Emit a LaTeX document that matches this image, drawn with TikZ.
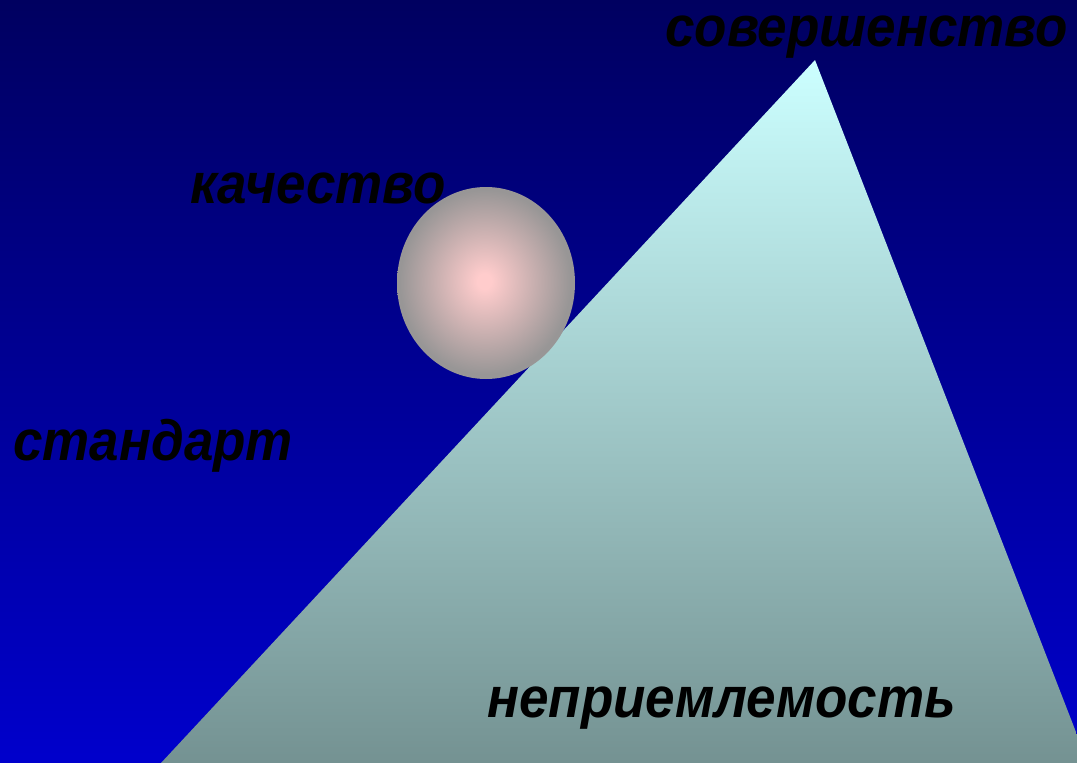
\documentclass[tikz,border=0pt]{standalone}
\usepackage{fontspec}
\setmainfont{Liberation Sans}
\newfontfamily\wordfont{Liberation Sans}[FakeStretch=0.93]

\definecolor{skytop}{RGB}{0,0,96}
\definecolor{skybot}{RGB}{0,0,204}
\definecolor{peaktop}{RGB}{204,255,255}
\definecolor{peakbot}{RGB}{116,146,146}
\definecolor{ballin}{RGB}{255,204,204}
\definecolor{ballout}{RGB}{152,150,150}
\pgfdeclareradialshading{ballshade}{\pgfpoint{-0.5bp}{0.5bp}}{%
  color(0bp)=(ballin); color(2bp)=(ballin); color(24bp)=(ballout);
  color(25bp)=(ballout); color(50bp)=(ballout)}

\begin{document}
\begin{tikzpicture}[
  x=1pt, y=-1pt,
  word/.style={font=\wordfont\fontsize{57}{60}\selectfont\bfseries\itshape, text=black,
               inner sep=0pt, anchor=base west},
]

% one unit is one pixel of the slide, y runs downwards
\useasboundingbox (0,0) rectangle (1077,763);
\clip (0,0) rectangle (1077,763);

% sky
\shade[top color=skytop, bottom color=skybot] (0,0) rectangle (1077,763);

% the hill; its right foot lies just past the edge
\coordinate (apex) at (815,60);
\coordinate (footL) at (161,763);
\coordinate (footR) at (1088,763);
\shade[top color=peaktop, bottom color=peakbot] (apex) -- (footR) -- (footL) -- cycle;

% the ball resting on the slope
\shade[shading=ballshade] (486,283) ellipse [x radius=89, y radius=96];

\node[word] (sov)  at (665,46)  {совершенство};
\node[word] (kach) at (190,203) {качество};
\node[word] (std)  at (13,460)  {стандарт};
\node[word] (nepr) at (487,717) {неприемлемость};

\end{tikzpicture}
\end{document}
